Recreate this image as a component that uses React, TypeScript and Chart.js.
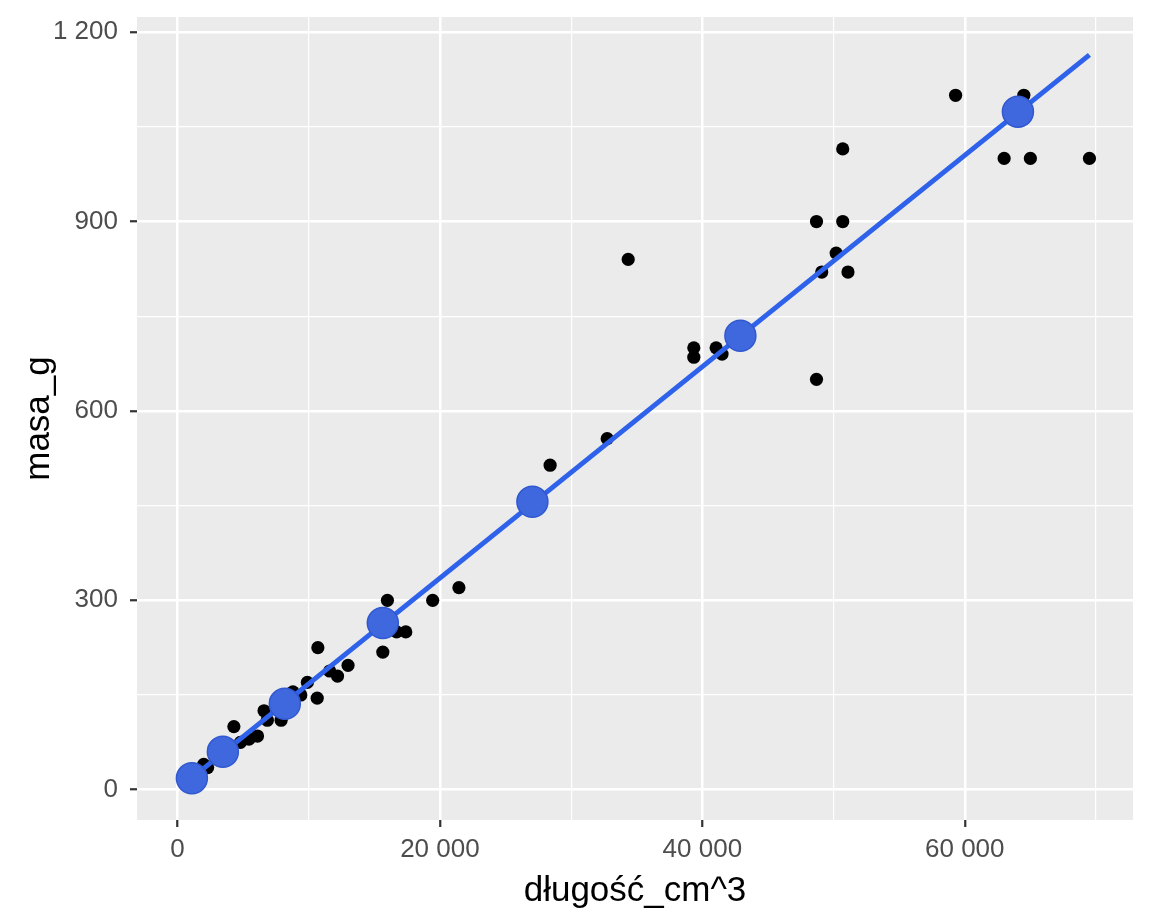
import { useEffect, useRef } from 'react'
import { Chart, registerables } from 'chart.js'

Chart.register(...registerables)

// black observations: length^3 (cm^3) vs mass (g)
const OBS_X = [
  59300, 64500, 63000, 65000, 69500, 50700, 48700, 50700, 50200, 49100, 51100, 48700,
  34350, 39350, 39350, 41050, 41500, 32750, 28400, 21450, 19450, 16000, 17400, 16700,
  15650, 10700, 13000, 12200, 11600, 9900, 10650, 9400, 8800, 7900, 6850, 6600, 4300,
  6100, 5450, 4800, 3700, 2300, 2000, 1000, 700, 8000, 15500,
]
const OBS_Y = [
  1100, 1100, 1000, 1000, 1000, 1015, 900, 900, 850, 820, 820, 650,
  840, 700, 685, 700, 690, 556, 514, 320, 300, 300, 250, 250,
  218, 225, 197, 180, 188, 170, 145, 150, 155, 110, 110, 125, 100,
  85, 80, 75, 55, 35, 40, 20, 10, 140, 270,
]

// blue highlighted points (group means)
const MEAN_X = [1100, 3460, 8180, 15650, 27050, 42900, 64050]
const MEAN_Y = [18, 60, 136, 264, 456, 719, 1074]

// fitted line end points
const FIT_X = [700, 69500]
const FIT_Y = [12, 1164]

const X_TICKS = [0, 10000, 20000, 30000, 40000, 50000, 60000, 70000]
const X_LABELS = ['0', '', '20 000', '', '40 000', '', '60 000', '']
const Y_TICKS = [0, 150, 300, 450, 600, 750, 900, 1050, 1200]
const Y_LABELS = ['0', '', '300', '', '600', '', '900', '', '1 200']

const FONT = '"Liberation Sans", Arial, sans-serif'

const panelBg = {
  id: 'panelBg',
  beforeDraw(chart: any) {
    const { ctx, chartArea: a } = chart
    ctx.save()
    ctx.fillStyle = '#EBEBEB'
    ctx.fillRect(a.left, a.top, a.right - a.left, a.bottom - a.top)
    ctx.restore()
  },
}

function pts(xs: number[], ys: number[]) {
  return xs.map((x, i) => ({ x, y: ys[i] }))
}

export default function App() {
  const ref = useRef<HTMLCanvasElement>(null)

  useEffect(() => {
    if (!ref.current) return
    const chart = new Chart(ref.current, {
      type: 'scatter',
      data: {
        datasets: [
          {
            data: pts(MEAN_X, MEAN_Y),
            backgroundColor: '#3F68DF',
            borderColor: '#3158CF',
            borderWidth: 1.5,
            pointRadius: 15.5,
            order: 0,
          },
          {
            data: pts(FIT_X, FIT_Y),
            showLine: true,
            borderColor: '#2F62EA',
            borderWidth: 5,
            pointRadius: 0,
            order: 1,
          },
          {
            data: pts(OBS_X, OBS_Y),
            backgroundColor: '#000000',
            borderColor: '#000000',
            borderWidth: 0,
            pointRadius: 6.6,
            order: 2,
          },
        ],
      },
      options: {
        animation: false,
        responsive: true,
        maintainAspectRatio: false,
        layout: { padding: { left: 0, top: 17, right: 19, bottom: 0 } },
        plugins: { legend: { display: false }, tooltip: { enabled: false } },
        scales: {
          x: {
            type: 'linear',
            min: -3083,
            max: 72820,
            afterBuildTicks: (s: any) => { s.ticks = X_TICKS.map(v => ({ value: v })) },
            afterFit: (s: any) => {
              s.height = 102
              s.paddingLeft = 0
              s.paddingRight = 0
            },
            border: { display: false },
            grid: {
              color: '#FFFFFF',
              lineWidth: (c: any) => (X_LABELS[c.index] ? 2.5 : 1.2),
              tickColor: (c: any) => (X_LABELS[c.index] ? '#333333' : 'rgba(0,0,0,0)'),
              tickLength: 7,
              tickWidth: 2.2,
            },
            ticks: {
              autoSkip: false,
              maxRotation: 0,
              padding: 7,
              color: '#4D4D4D',
              font: { family: FONT, size: 26 },
              callback: (_v: any, i: number) => X_LABELS[i],
            },
            title: {
              display: true,
              text: 'długość_cm^3',
              color: '#000000',
              font: { family: FONT, size: 35 },
              padding: { top: 0, bottom: 10 },
            },
          },
          y: {
            type: 'linear',
            min: -48,
            max: 1224,
            afterBuildTicks: (s: any) => { s.ticks = Y_TICKS.map(v => ({ value: v })) },
            afterFit: (s: any) => {
              s.width = 137
              s.paddingTop = 0
              s.paddingBottom = 0
            },
            border: { display: false },
            grid: {
              color: '#FFFFFF',
              lineWidth: (c: any) => (Y_LABELS[c.index] ? 2.5 : 1.2),
              tickColor: (c: any) => (Y_LABELS[c.index] ? '#333333' : 'rgba(0,0,0,0)'),
              tickLength: 7,
              tickWidth: 2.2,
            },
            ticks: {
              autoSkip: false,
              padding: 12,
              color: '#4D4D4D',
              font: { family: FONT, size: 26 },
              callback: (_v: any, i: number) => Y_LABELS[i],
            },
            title: {
              display: true,
              text: 'masa_g',
              color: '#000000',
              font: { family: FONT, size: 35 },
              padding: { top: 18, bottom: 0 },
            },
          },
        },
      },
      plugins: [panelBg],
    })
    return () => chart.destroy()
  }, [])

  return (
    <div style={{ position: 'absolute', left: 0, top: 0, width: 1152, height: 922, background: '#FFFFFF' }}>
      <canvas ref={ref} />
    </div>
  )
}
